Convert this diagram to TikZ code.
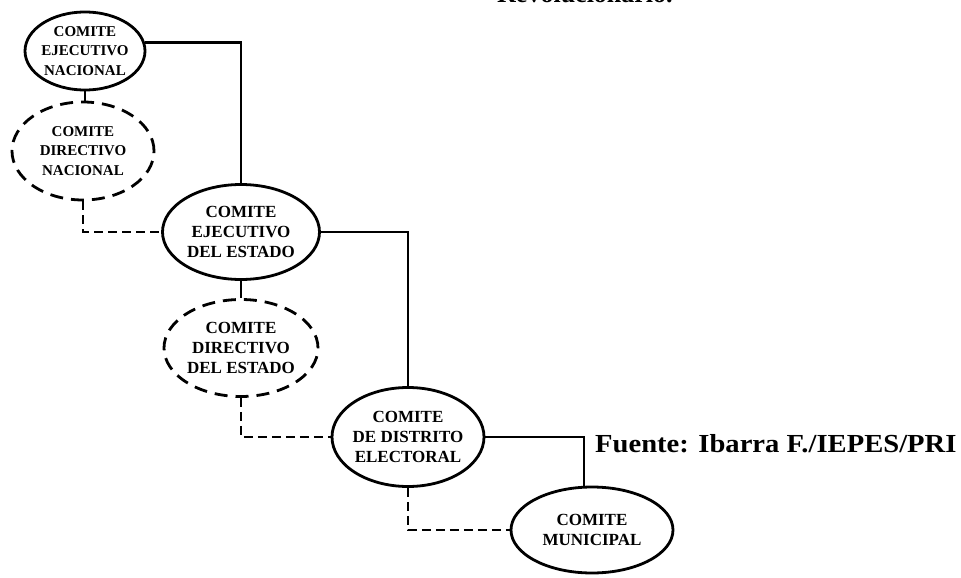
\documentclass[tikz,border=0pt]{standalone}
\usepackage{fontspec}
\setmainfont{Liberation Serif}
\usetikzlibrary{shapes.geometric}
\begin{document}
\begin{tikzpicture}[x=1pt,y=-1pt,
  box/.style={ellipse, draw, line width=2.8pt, inner sep=-4pt, align=center,
    font=\bfseries\fontsize{17}{20}\selectfont},
  smallbox/.style={box, font=\bfseries\fontsize{15}{19.5}\selectfont},
  dashedbox/.style={dash pattern=on 13pt off 8pt},
  link/.style={line width=2.3pt},
  dlink/.style={link, dash pattern=on 9pt off 5pt},
  srctext/.style={font=\bfseries\fontsize{26}{30}\selectfont, inner sep=0pt}]
\useasboundingbox (0,0) rectangle (961,578);
% ellipses
\node[smallbox, minimum width=120pt, minimum height=78pt] (n1) at (85,51) {COMITE\\EJECUTIVO\\NACIONAL};
\node[smallbox, dashedbox, minimum width=142pt, minimum height=98pt] (n2) at (83,151) {COMITE\\DIRECTIVO\\NACIONAL};
\node[box, minimum width=157pt, minimum height=95pt] (n3) at (241,232) {COMITE\\EJECUTIVO\\DEL ESTADO};
\node[box, dashedbox, minimum width=154pt, minimum height=97pt] (n4) at (241,348) {COMITE\\DIRECTIVO\\DEL ESTADO};
\node[box, minimum width=152pt, minimum height=99pt] (n5) at (408,437) {COMITE\\DE DISTRITO\\ELECTORAL};
\node[box, minimum width=162pt, minimum height=86pt] (n6) at (592,530) {COMITE\\MUNICIPAL};
% texts
\node[srctext, anchor=base west] (src) at (595,452) {\scalebox{1.1}[1]{Fuente: Ibarra F./IEPES/PRI}};
\node[srctext, anchor=base west] (rev) at (497,3) {Revolucionario.};
% connectors
\draw[link] (n1.south) -- (n1.south |- n2.north);
\draw[link] (n1.8) -| (n3.north);
\draw[dlink] (n2.south) |- (n3.west);
\draw[link] (n3.south) -- (n3.south |- n4.north);
\draw[link] (n3.east) -| (n5.north);
\draw[dlink] (n4.south) |- (n5.west);
\draw[link] (n5.east) -| (n6.100);
\draw[dlink] (n5.south) |- (n6.west);
\end{tikzpicture}
\end{document}
